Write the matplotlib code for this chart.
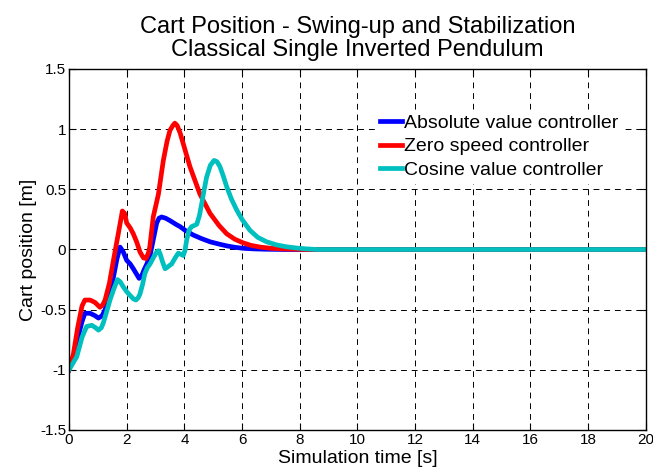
import matplotlib.pyplot as plt

plt.rcParams['font.family'] = ['Liberation Sans', 'DejaVu Sans']

# simulation time [s] and cart position [m]
t_abs = [0, 0.15, 0.3, 0.45, 0.55, 0.73, 0.9, 1.02, 1.15, 1.25, 1.4, 1.54, 1.66, 1.77, 1.88,
         2.0, 2.12, 2.23, 2.33, 2.43, 2.52, 2.6, 2.7, 2.8, 2.92, 3.04, 3.12, 3.21, 3.35, 3.5,
         3.7, 3.85, 4.05, 4.31, 4.6, 4.89, 5.2, 5.47, 5.75, 6.04, 6.4, 6.8, 7.5, 20]
x_abs = [-1.0, -0.9, -0.74, -0.6, -0.53, -0.53, -0.55, -0.57, -0.55, -0.5, -0.38, -0.23, -0.08, 0.02, -0.02,
         -0.09, -0.12, -0.16, -0.2, -0.24, -0.22, -0.17, -0.12, -0.06, 0.08, 0.22, 0.26, 0.27, 0.26, 0.24,
         0.21, 0.19, 0.155, 0.12, 0.09, 0.064, 0.045, 0.03, 0.018, 0.01, 0.005, 0.002, 0.0, 0.0]

t_zero = [0, 0.15, 0.3, 0.45, 0.55, 0.73, 0.9, 1.07, 1.17, 1.25, 1.4, 1.54, 1.7, 1.85, 1.93,
          2.0, 2.12, 2.23, 2.35, 2.46, 2.58, 2.67, 2.75, 2.8, 2.92, 3.1, 3.27, 3.4, 3.5, 3.6,
          3.67, 3.75, 3.85, 3.96, 4.19, 4.54, 4.89, 5.2, 5.47, 5.75, 6.04, 6.3, 6.62, 7.0,
          7.4, 7.78, 8.2, 20]
x_zero = [-1.0, -0.87, -0.65, -0.47, -0.42, -0.42, -0.44, -0.48, -0.46, -0.42, -0.28, -0.09, 0.12, 0.32, 0.3,
          0.22, 0.18, 0.13, 0.06, -0.02, -0.07, -0.075, -0.03, 0.02, 0.27, 0.46, 0.74, 0.9, 0.99, 1.03,
          1.05, 1.03, 0.97, 0.88, 0.69, 0.46, 0.3, 0.2, 0.13, 0.085, 0.055, 0.035, 0.02, 0.01,
          0.005, 0.003, 0.0, 0.0]

t_cos = [0, 0.27, 0.45, 0.61, 0.79, 0.92, 1.02, 1.12, 1.19, 1.3, 1.42, 1.55, 1.68, 1.78, 1.88,
         2.0, 2.11, 2.23, 2.32, 2.4, 2.46, 2.55, 2.63, 2.72, 2.81, 2.92, 3.04, 3.1, 3.15, 3.24,
         3.33, 3.45, 3.56, 3.68, 3.79, 3.88, 3.96, 4.02, 4.08, 4.16, 4.25, 4.35, 4.43, 4.52,
         4.6, 4.68, 4.77, 4.9, 5.03, 5.13, 5.23, 5.35, 5.47, 5.63, 5.81, 6.0, 6.27, 6.55,
         6.85, 7.2, 7.55, 7.9, 8.24, 8.6, 20]
x_cos = [-1.0, -0.89, -0.73, -0.64, -0.63, -0.65, -0.67, -0.65, -0.61, -0.52, -0.42, -0.33, -0.25, -0.27, -0.31,
         -0.35, -0.38, -0.41, -0.42, -0.4, -0.37, -0.29, -0.2, -0.15, -0.12, -0.07, -0.02, -0.01, -0.03, -0.1,
         -0.16, -0.14, -0.12, -0.07, -0.03, -0.04, -0.05, -0.01, 0.08, 0.16, 0.19, 0.2, 0.21, 0.28,
         0.38, 0.49, 0.6, 0.7, 0.74, 0.73, 0.69, 0.61, 0.52, 0.42, 0.33, 0.25, 0.16, 0.1,
         0.064, 0.038, 0.022, 0.012, 0.005, 0.0, 0.0]

labels = ['Absolute value controller', 'Zero speed controller', 'Cosine value controller']
colors = ['#0000ff', '#ff0000', '#00bfbf']

fig = plt.figure(figsize=(6.53, 4.68), dpi=100)
ax = fig.add_axes([0.1057, 0.0812, 0.8833, 0.7714])

ax.plot(t_abs, x_abs, color=colors[0], lw=3.4, label=labels[0])
ax.plot(t_zero, x_zero, color=colors[1], lw=3.4, label=labels[1])
ax.plot(t_cos, x_cos, color=colors[2], lw=3.4, label=labels[2])

ax.set_xlim(0, 20)
ax.set_ylim(-1.5, 1.5)
ax.set_xticks(range(0, 21, 2))
ax.set_yticks([-1.5, -1, -0.5, 0, 0.5, 1, 1.5])
ax.set_yticklabels(['-1.5', '-1', '-0.5', '0', '0.5', '1', '1.5'])
ax.tick_params(direction='in', top=True, right=True, labelsize=11, length=5, width=0.8, pad=2)
ax.grid(True, color='black', linestyle=(0, (6, 5)), linewidth=0.7)
for s in ax.spines.values():
    s.set_linewidth(1.0)

ax.set_xlabel('Simulation time [s]', fontsize=14, labelpad=2)
ax.set_ylabel('Cart position [m]', fontsize=14, labelpad=2)
ax.set_title('Cart Position - Swing-up and Stabilization\nClassical Single Inverted Pendulum',
             fontsize=17, linespacing=1.1, pad=9)

leg = ax.legend(loc='upper right', bbox_to_anchor=(0.96, 0.885), fontsize=14,
                frameon=True, fancybox=False, handlelength=1.1, handletextpad=0.15,
                labelspacing=0.3, borderpad=0.2, borderaxespad=0)
leg.get_frame().set_edgecolor('white')
leg.get_frame().set_alpha(1)

fig.savefig('out.png', dpi=100)
